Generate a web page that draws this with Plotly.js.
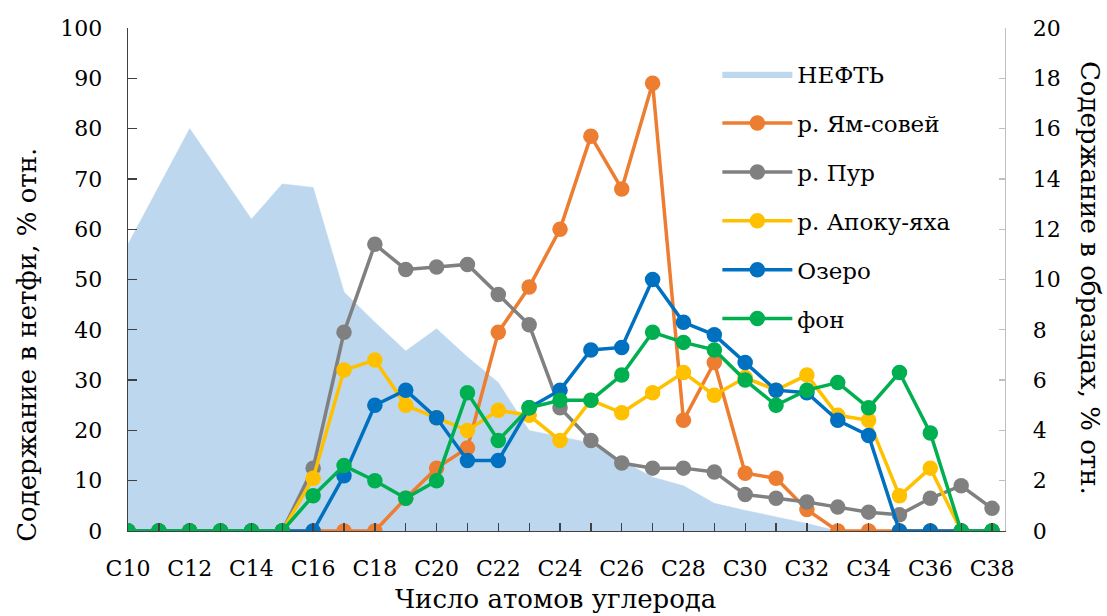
<!DOCTYPE html>
<html>
<head>
<meta charset="utf-8">
<script src="https://cdn.plot.ly/plotly-3.0.1.min.js"></script>
<style>html,body{margin:0;padding:0;background:#fff;}#chart{width:1107px;height:616px;}</style>
</head>
<body>
<div id="chart"></div>
<script>
const categories = ['C10','C11','C12','C13','C14','C15','C16','C17','C18','C19','C20','C21','C22','C23','C24','C25','C26','C27','C28','C29','C30','C31','C32','C33','C34','C35','C36','C37','C38'];
const oil      = [57, 68.5, 80, 71, 62, 69, 68.3, 47.5, 41.5, 35.8, 40.2, 34.6, 29.5, 20, 18.7, 17.5, 14, 10.7, 9, 5.5, 4.1, 2.8, 1.5, 0, 0, 0, 0, 0, 0];
const yamsovey = [0,0,0,0,0,0,0,0,0,1.3,2.5,3.3,7.9,9.7,12.0,15.7,13.6,17.8,4.4,6.7,2.3,2.1,0.85,0,0,0,0,0,0];
const pur      = [0,0,0,0,0,0,2.5,7.9,11.4,10.4,10.5,10.6,9.4,8.2,4.9,3.6,2.7,2.5,2.5,2.35,1.45,1.3,1.15,0.95,0.75,0.65,1.3,1.8,0.9];
const apoku    = [0,0,0,0,0,0,2.1,6.4,6.8,5.0,4.5,4.0,4.8,4.6,3.6,5.2,4.7,5.5,6.3,5.4,6.1,5.6,6.2,4.6,4.4,1.4,2.5,0,0];
const ozero    = [0,0,0,0,0,0,0,2.2,5.0,5.6,4.5,2.8,2.8,4.9,5.6,7.2,7.3,10.0,8.3,7.8,6.7,5.6,5.5,4.4,3.8,0,0,0,0];
const fon      = [0,0,0,0,0,0,1.4,2.6,2.0,1.3,2.0,5.5,3.6,4.9,5.2,5.2,6.2,7.9,7.5,7.2,6.0,5.0,5.6,5.9,4.9,6.3,3.9,0,0];
const tickLabels = categories.map((c, i) => (i % 2 === 0 ? c : ''));

const FONT = 'DejaVu Serif';
const series = [
  {name: 'р. Ям-совей', y: yamsovey, color: '#ED7D31'},
  {name: 'р. Пур', y: pur, color: '#808080'},
  {name: 'р. Апоку-яха', y: apoku, color: '#FFC000'},
  {name: 'Озеро', y: ozero, color: '#0070C0'},
  {name: 'фон', y: fon, color: '#00B050'}
];

const traces = [{
  type: 'scatter', mode: 'lines', name: 'НЕФТЬ', x: categories, y: oil,
  fill: 'tozeroy', fillcolor: '#BDD7EE', line: {color: '#BDD7EE', width: 0.5},
  yaxis: 'y', legendgroup: 'g0'
}];
series.forEach((s, i) => {
  traces.push({
    type: 'scatter', mode: 'lines+markers', name: s.name, x: categories, y: s.y,
    yaxis: 'y2', line: {color: s.color, width: 3.5},
    marker: {color: s.color, size: 15.5}, legendgroup: 'g' + (i + 1)
  });
});

const layout = {
  width: 1107, height: 616,
  margin: {l: 128, r: 102, t: 28, b: 85},
  paper_bgcolor: '#fff', plot_bgcolor: '#fff',
  font: {family: FONT, color: '#000', size: 22},
  showlegend: true,
  legend: {
    x: 0.672, y: 0.951, xanchor: 'left', yanchor: 'top',
    font: {family: FONT, size: 23, color: '#000'},
    bgcolor: 'rgba(0,0,0,0)', tracegroupgap: 16, itemwidth: 70
  },
  xaxis: {
    type: 'category', range: [0, 28.42],
    tickmode: 'array', tickvals: categories, ticktext: tickLabels,
    ticks: 'inside', ticklen: 8, tickcolor: '#404040', tickwidth: 1.3,
    showline: true, linecolor: '#404040', linewidth: 1.3,
    showgrid: false, zeroline: false,
    tickfont: {family: FONT, size: 22, color: '#000'}, ticklabelstandoff: 17
  },
  yaxis: {
    range: [0, 100], dtick: 10, tick0: 0,
    ticks: 'inside', ticklen: 9, tickcolor: '#404040', tickwidth: 1.3,
    showline: true, linecolor: '#404040', linewidth: 1.3,
    showgrid: false, zeroline: false,
    tickfont: {family: FONT, size: 22, color: '#000'}, ticklabelstandoff: 20
  },
  yaxis2: {
    range: [0, 20], dtick: 2, tick0: 0, overlaying: 'y', side: 'right',
    ticks: 'inside', ticklen: 6, tickcolor: '#BFBFBF', tickwidth: 1.3,
    showline: true, linecolor: '#BFBFBF', linewidth: 1.3,
    showgrid: false, zeroline: false,
    tickfont: {family: FONT, size: 22, color: '#000'}, ticklabelstandoff: 22
  },
  annotations: [
    {text: 'Содержание в нетфи, % отн.', xref: 'paper', yref: 'paper', x: -0.1152, y: 0.37,
     xanchor: 'center', yanchor: 'middle', textangle: -90, showarrow: false,
     font: {family: FONT, size: 26, color: '#000'}},
    {text: 'Содержание в образцах, % отн.', xref: 'paper', yref: 'paper', x: 1.097, y: 0.503,
     xanchor: 'center', yanchor: 'middle', textangle: 90, showarrow: false,
     font: {family: FONT, size: 26, color: '#000'}},
    {text: 'Число атомов углерода', xref: 'paper', yref: 'paper', x: 0.487, y: -0.168,
     xanchor: 'center', yanchor: 'bottom', showarrow: false,
     font: {family: FONT, size: 26, color: '#000'}}
  ]
};

Plotly.newPlot('chart', traces, layout, {displayModeBar: false, staticPlot: true});
</script>
</body>
</html>
